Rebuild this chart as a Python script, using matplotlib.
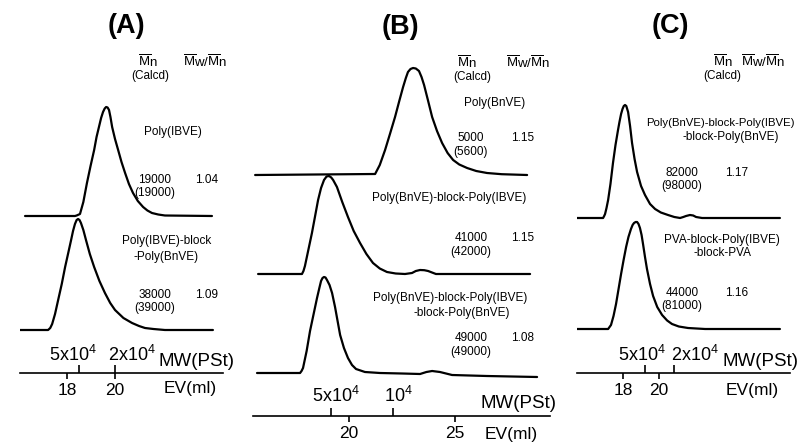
import matplotlib
matplotlib.use('Agg')
import matplotlib.pyplot as plt

plt.rcParams['font.family'] = ['Liberation Sans', 'DejaVu Sans']
plt.rcParams['mathtext.fontset'] = 'custom'
plt.rcParams['mathtext.rm'] = 'Liberation Sans'
plt.rcParams['mathtext.it'] = 'Liberation Sans:italic'
plt.rcParams['mathtext.bf'] = 'Liberation Sans:bold'

# ---- GPC traces: elution volume (ml) vs. detector response (a.u.)
# panel A
a_top_ev = [16.25, 18.33, 18.40, 18.54, 18.68, 18.83, 18.98, 19.13, 19.23, 19.33, 19.42, 19.50, 19.57, 19.63,
            19.69, 19.75, 19.81, 19.88, 20.00, 20.13, 20.27, 20.42, 20.58, 20.75, 20.95, 21.17, 21.35, 21.54,
            21.80, 22.08, 24.04]
a_top_h = [0, 0, 0.5, 2, 14, 33, 50, 66, 79, 89, 98, 104, 107.5, 109, 108.5, 106, 99, 89, 77, 66, 54, 43, 32,
           23, 15, 9, 5.5, 3, 1.5, 0.5, 0]
a_bot_ev = [16.04, 17.21, 17.30, 17.38, 17.50, 17.63, 17.78, 17.92, 18.05, 18.17, 18.25, 18.33, 18.40, 18.46,
            18.52, 18.58, 18.68, 18.79, 18.95, 19.13, 19.35, 19.58, 19.80, 20.00, 20.35, 20.71, 21.00, 21.25,
            21.60, 22.08, 24.08]
a_bot_h = [0, 0, 2, 6, 16, 30, 46, 63, 77, 90, 99, 106, 110, 111, 110, 107, 100, 90, 76, 63, 49, 37, 27, 20,
           12, 7, 4, 2, 1, 0, 0]

# panel B
b_top_ev = [15.57, 21.23, 21.45, 21.70, 21.93, 22.17, 22.37, 22.55, 22.68, 22.78, 22.90, 23.02, 23.15, 23.30,
            23.42, 23.54, 23.72, 23.92, 24.15, 24.39, 24.65, 24.91, 25.20, 25.57, 26.00, 26.51, 27.20, 28.40]
b_top_h = [0, 1, 10, 25, 41, 58, 74, 88, 97, 103, 106, 107, 106.5, 104, 98, 90, 75, 58, 44, 32, 22, 15, 10.5,
           7, 4, 2, 0.8, 0]
b_mid_ev = [15.71, 17.78, 17.85, 17.92, 18.08, 18.25, 18.40, 18.54, 18.68, 18.82, 18.94, 19.06, 19.16, 19.25,
            19.43, 19.68, 19.95, 20.22, 20.52, 20.82, 21.13, 21.45, 21.79, 22.20, 22.64, 22.97, 23.15, 23.35,
            23.55, 23.73, 24.10, 28.54]
b_mid_h = [0, 0, 3, 8, 24, 41, 58, 74, 86, 94, 97.5, 98, 96.5, 94, 87, 72, 57, 43, 31, 20, 11, 5.5, 2, 0.5, 0,
           1, 3, 4, 3.8, 3, 0, 0]
b_bot_ev = [15.66, 17.69, 17.76, 17.83, 18.00, 18.16, 18.33, 18.49, 18.60, 18.68, 18.75, 18.82, 18.89, 18.96,
            19.08, 19.20, 19.34, 19.46, 19.58, 19.76, 19.95, 20.14, 20.33, 20.75, 21.46, 22.50, 23.35, 23.65,
            23.92, 24.29, 24.86, 26.50, 28.87]
b_bot_h = [0, 0, 2, 5, 22, 42, 59, 75, 85, 92, 95, 96, 95.5, 93, 88, 80, 66, 52, 38, 25, 15, 8, 4, 1, 0, -0.5,
           -1, 1, 2, 1, -2, -3, -4]

# panel C
c_top_ev = [15.44, 16.89, 16.95, 17.00, 17.08, 17.17, 17.30, 17.44, 17.58, 17.72, 17.80, 17.89, 17.97, 18.04,
            18.11, 18.18, 18.28, 18.39, 18.50, 18.64, 18.78, 19.00, 19.22, 19.50, 19.78, 20.10, 20.50, 20.85,
            21.17, 21.35, 21.50, 21.72, 21.90, 22.06, 22.39, 26.72]
c_top_h = [0, 0, 2, 4, 10, 18, 34, 55, 73, 88, 96, 104, 109, 112, 113, 112, 106, 92, 75, 59, 46, 32, 23, 14,
           9, 5.5, 3, 1, 0, 1, 2, 3, 2.5, 1, 0, 0]
c_bot_ev = [15.44, 17.17, 17.25, 17.33, 17.47, 17.61, 17.75, 17.89, 18.03, 18.17, 18.30, 18.44, 18.53, 18.61,
            18.70, 18.78, 18.86, 18.94, 19.03, 19.11, 19.22, 19.33, 19.50, 19.67, 19.90, 20.17, 20.45, 20.72,
            21.10, 21.61, 22.56, 26.72]
c_bot_h = [0, 0, 2, 4, 13, 25, 40, 55, 69, 82, 92, 100, 104, 106, 107, 107, 105, 101, 94, 85, 72, 60, 45, 33,
           22, 14, 8.5, 5, 2.5, 1, 0, 0]

# axis ticks: elution volume and polystyrene calibration
a_ev_ticks = [18, 20]
a_mw_ticks = [18.5, 20.0]
a_mw_labels = [r'5x10$^4$', r'2x10$^4$']
b_ev_ticks = [20, 25]
b_mw_ticks = [19.15, 22.08]
b_mw_labels = [r'5x10$^4$', r'10$^4$']
c_ev_ticks = [18, 20]
c_mw_ticks = [19.22, 20.83]
c_mw_labels = [r'5x10$^4$', r'2x10$^4$']

# sample annotations
a_names = [['Poly(IBVE)'], ['Poly(IBVE)-block', '-Poly(BnVE)']]
a_mn = ['19000', '38000']
a_mn_calcd = ['(19000)', '(39000)']
a_pdi = ['1.04', '1.09']
b_names = [['Poly(BnVE)'], ['Poly(BnVE)-block-Poly(IBVE)'], ['Poly(BnVE)-block-Poly(IBVE)', '-block-Poly(BnVE)']]
b_mn = ['5000', '41000', '49000']
b_mn_calcd = ['(5600)', '(42000)', '(49000)']
b_pdi = ['1.15', '1.15', '1.08']
c_names = [['Poly(BnVE)-block-Poly(IBVE)', '-block-Poly(BnVE)'], ['PVA-block-Poly(IBVE)', '-block-PVA']]
c_mn = ['82000', '44000']
c_mn_calcd = ['(98000)', '(81000)']
c_pdi = ['1.17', '1.16']

W, H = 798, 447
fig = plt.figure(figsize=(W / 100, H / 100), dpi=100)
fig.patch.set_facecolor('white')

SMALL = 8.5


def t(x, y, s, size=SMALL, **kw):
    kw.setdefault('ha', 'center')
    kw.setdefault('va', 'center')
    fig.text(x / W, 1 - y / H, s, fontsize=size, **kw)


def panel(x0, x1, yline, xlim, ev_ticks, mw_ticks, mw_labels, mw_dx, mw_dy):
    rect = [x0 / W, 1 - yline / H, (x1 - x0) / W, yline / H]
    ax = fig.add_axes(rect)
    ax.patch.set_visible(False)
    ax.set_xlim(xlim)
    ax.set_ylim(0, yline)
    for s in ['top', 'left', 'right']:
        ax.spines[s].set_visible(False)
    ax.spines['bottom'].set_linewidth(1.2)
    ax.set_yticks([])
    ax.set_xticks(ev_ticks)
    ax.set_xticklabels([str(v) for v in ev_ticks])
    ax.tick_params(axis='x', direction='out', length=4.5, width=1.2, pad=2.5, labelsize=12.5)

    mw = fig.add_axes([x0 / W, 1 - yline / H, (x1 - x0) / W, 1e-5])
    mw.patch.set_visible(False)
    for s in mw.spines.values():
        s.set_visible(False)
    mw.set_xlim(xlim)
    mw.set_yticks([])
    mw.xaxis.tick_top()
    mw.set_xticks(mw_ticks)
    mw.set_xticklabels([])
    mw.tick_params(axis='x', direction='out', length=5.5, width=1.2)
    for v, lab, dx in zip(mw_ticks, mw_labels, mw_dx):
        ax.annotate(lab, xy=(v, 0), xycoords=('data', 'axes fraction'), xytext=(dx, mw_dy),
                    textcoords='offset pixels', ha='center', va='center', fontsize=13)
    return ax


def trace(ax, ev, h, base):
    ax.plot(ev, [base + v for v in h], color='black', lw=1.6, solid_joinstyle='round',
            solid_capstyle='round')


def header(xm, xc, xp, y):
    t(xm, y, r'$\overline{\mathrm{M}}\mathrm{n}$', size=9.5)
    t(xc, y + 14, '(Calcd)', size=8.5)
    t(xp, y, r'$\overline{\mathrm{M}}\mathrm{w}/\overline{\mathrm{M}}\mathrm{n}$', size=9.5)


# ---------------- panel A
ax_a = panel(20, 223, 373, (16.04, 24.5), a_ev_ticks, a_mw_ticks, a_mw_labels, [-6, 17], 18)
trace(ax_a, a_top_ev, a_top_h, 373 - 216)
trace(ax_a, a_bot_ev, a_bot_h, 373 - 330)
t(126, 26, '(A)', size=19.5, weight='bold')
header(148, 150, 205, 62)
t(197, 361, 'MW(PSt)', size=13.5)
t(190, 389, 'EV(ml)', size=12.5)
a_name_pos = [[(173, 132)], [(167, 241), (166, 257)]]
for lines, pos in zip(a_names, a_name_pos):
    for line, (x, y) in zip(lines, pos):
        t(x, y, line)
for mn, mc, pdi, ym in zip(a_mn, a_mn_calcd, a_pdi, [180, 295]):
    t(155, ym, mn)
    t(155, ym + 13, mc)
    t(207, ym, pdi)

# ---------------- panel B
ax_b = panel(253, 550, 416, (15.47, 29.48), b_ev_ticks, b_mw_ticks, b_mw_labels, [5, 5], 20)
trace(ax_b, b_top_ev, b_top_h, 416 - 175)
trace(ax_b, b_mid_ev, b_mid_h, 416 - 274)
trace(ax_b, b_bot_ev, b_bot_h, 416 - 373)
t(400, 27, '(B)', size=19.5, weight='bold')
header(467, 472, 528, 63)
t(519, 404, 'MW(PSt)', size=13.5)
t(511, 434, 'EV(ml)', size=12.5)
b_name_pos = [[(495, 103)], [(449, 198)], [(450, 298), (462, 313)]]
for lines, pos in zip(b_names, b_name_pos):
    for line, (x, y) in zip(lines, pos):
        t(x, y, line)
for mn, mc, pdi, ym in zip(b_mn, b_mn_calcd, b_pdi, [138, 238, 338]):
    t(471, ym, mn)
    t(471, ym + 14, mc)
    t(523, ym, pdi)

# ---------------- panel C
ax_c = panel(577, 790, 373, (15.44, 27.28), c_ev_ticks, c_mw_ticks, c_mw_labels, [-3, 21], 18)
trace(ax_c, c_top_ev, c_top_h, 373 - 218)
trace(ax_c, c_bot_ev, c_bot_h, 373 - 329)
t(670, 26, '(C)', size=19.5, weight='bold')
header(723, 722, 763, 62)
t(761, 361, 'MW(PSt)', size=13.5)
t(752, 390, 'EV(ml)', size=12.5)
c_name_pos = [[(720, 123), (731, 137)], [(722, 240), (723, 253)]]
for lines, pos in zip(c_names, c_name_pos):
    for line, (x, y) in zip(lines, pos):
        t(x, y, line, size=8.2 if len(line) > 20 else SMALL)
for mn, mc, pdi, ym in zip(c_mn, c_mn_calcd, c_pdi, [173, 293]):
    t(682, ym, mn)
    t(682, ym + 13, mc)
    t(737, ym, pdi)

fig.savefig('out.png', dpi=100)
